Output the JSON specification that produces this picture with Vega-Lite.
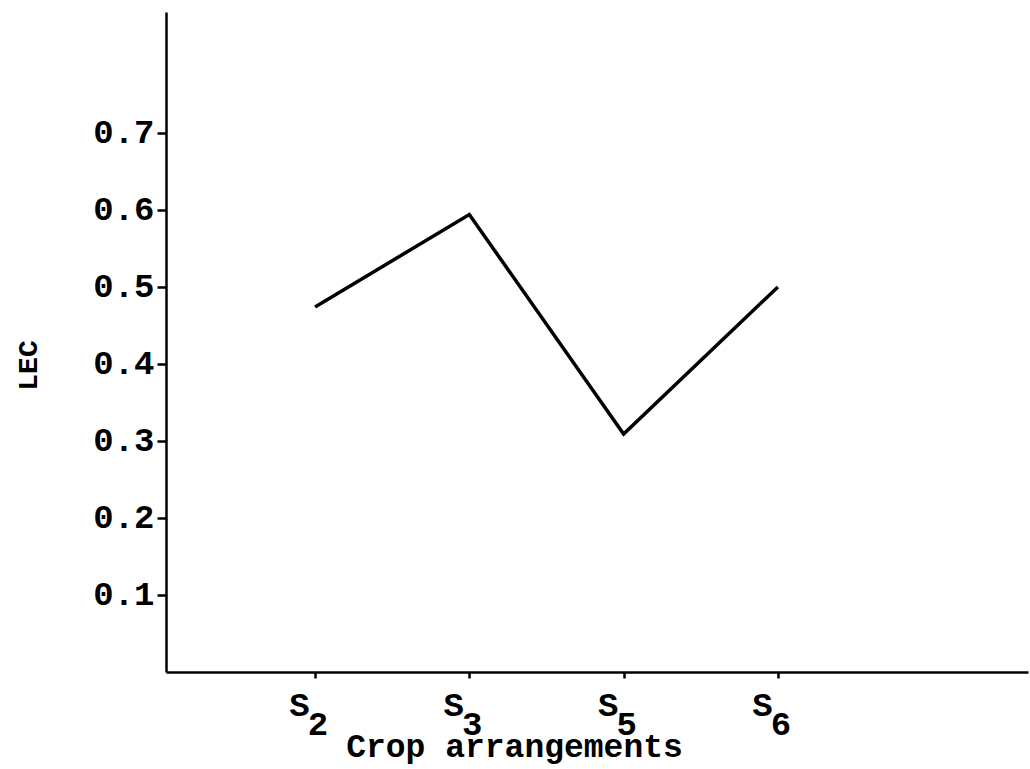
{
  "$schema": "https://vega.github.io/schema/vega-lite/v6.json",
  "width": 862,
  "height": 660,
  "autosize": "none",
  "padding": {"left": 166, "top": 12, "right": 2, "bottom": 97},
  "background": "white",
  "config": {"view": {"stroke": null}, "font": "Liberation Mono"},
  "data": {
    "values": [
      {"arrangement": "S2", "i": 1, "sub": "2", "lec": 0.474},
      {"arrangement": "S3", "i": 2, "sub": "3", "lec": 0.594},
      {"arrangement": "S5", "i": 3, "sub": "5", "lec": 0.309},
      {"arrangement": "S6", "i": 4, "sub": "6", "lec": 0.5}
    ]
  },
  "encoding": {
    "x": {
      "field": "i",
      "type": "quantitative",
      "scale": {"domain": [0.034, 5.621], "nice": false, "zero": false},
      "axis": {
        "values": [1, 2, 3, 4],
        "labelExpr": "'S'",
        "labelFont": "Liberation Mono",
        "labelFontWeight": "bold",
        "labelFontSize": 34,
        "labelBaseline": "top",
        "labelPadding": 10,
        "labelOffset": -16,
        "labelColor": "black",
        "labelOverlap": false,
        "grid": false,
        "domainColor": "black",
        "domainWidth": 2.5,
        "tickColor": "black",
        "tickWidth": 2.5,
        "tickSize": 6,
        "title": "Crop arrangements",
        "titleFont": "Liberation Mono",
        "titleFontWeight": "bold",
        "titleFontSize": 33,
        "titleColor": "black",
        "titleAnchor": null,
        "titleAlign": "center",
        "titleX": 348,
        "titleY": 84,
        "titleBaseline": "alphabetic"
      }
    }
  },
  "layer": [
    {
      "mark": {"type": "line", "color": "black", "strokeWidth": 3.5},
      "encoding": {
        "y": {
          "field": "lec",
          "type": "quantitative",
          "scale": {"domain": [0, 0.857], "nice": false, "zero": true},
          "axis": {
            "values": [0.1, 0.2, 0.3, 0.4, 0.5, 0.6, 0.7],
            "format": ".1f",
            "labelFont": "Liberation Mono",
            "labelFontWeight": "bold",
            "labelFontSize": 34,
            "labelPadding": 3,
            "labelColor": "black",
            "grid": false,
            "domainColor": "black",
            "domainWidth": 2.5,
            "tickColor": "black",
            "tickWidth": 2.5,
            "tickSize": 9,
            "title": "LEC",
            "titleFont": "Liberation Mono",
            "titleFontWeight": "bold",
            "titleFontSize": 28,
            "titleColor": "black",
            "titleAngle": -90,
            "titleAlign": "center",
            "titleBaseline": "middle",
            "titleX": -138,
            "titleY": 353
          }
        }
      }
    },
    {
      "mark": {
        "type": "text",
        "font": "Liberation Mono",
        "fontWeight": "bold",
        "fontSize": 34,
        "color": "black",
        "align": "center",
        "baseline": "alphabetic",
        "dx": 3
      },
      "encoding": {
        "y": {"datum": -0.082, "type": "quantitative"},
        "text": {"field": "sub"}
      }
    }
  ]
}
